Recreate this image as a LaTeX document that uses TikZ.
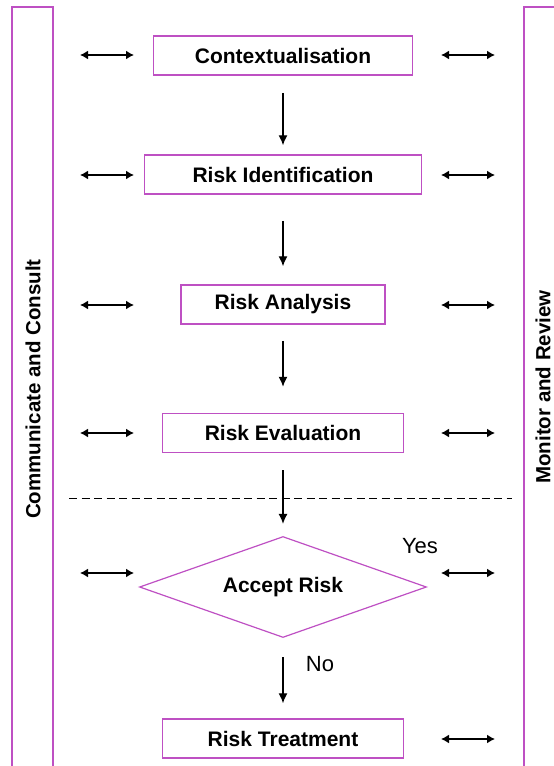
\documentclass[tikz,border=0pt]{standalone}
\usepackage{fontspec}
\setmainfont{Liberation Sans}
\usetikzlibrary{arrows.meta,shapes.geometric}
\definecolor{boxpurple}{RGB}{190,80,195}
\tikzset{
	procbox/.style={draw=boxpurple, line width=1.5pt, minimum height=39pt, inner sep=0pt, font=\bfseries\fontsize{21}{25}\selectfont},
	sidebar/.style={draw=boxpurple, line width=1.5pt},
	sidetext/.style={rotate=90, inner sep=0pt, font=\bfseries\fontsize{20.5}{24}\selectfont},
	dblarrow/.style={{Latex[length=8pt,width=9pt]}-{Latex[length=8pt,width=9pt]}, line width=1.5pt},
	flowarrow/.style={-{Latex[length=10pt,width=9pt]}, line width=1.3pt},
	answer/.style={font=\fontsize{22}{26}\selectfont},
}

\begin{document}
\begin{tikzpicture}[x=1pt,y=-1pt]
		%%%%% START %%%%%
		\useasboundingbox (0,0) rectangle (554,766);
		\clip (0,0) rectangle (554,766);
		
		% side bars
		\draw[sidebar] (12,7) rectangle (53,800);
		\draw[sidebar] (524,7) rectangle (620,800);
		\node[sidetext] (comm) at (33,389) {Communicate and Consult};
		\node[sidetext] (monit) at (543,387) {Monitor and Review};
		
		% process steps
		\node[procbox, minimum width=259pt] (context) at (283,55.5) {Contextualisation};
		\node[procbox, minimum width=277pt] (riskid) at (283,174.5) {Risk Identification};
		\node[procbox, minimum width=204pt] (analysis) at (283,304.5) {Risk Analysis};
		\node[procbox, minimum width=241pt] (evaluation) at (283,433) {Risk Evaluation};
		\node[diamond, draw=boxpurple, line width=1.2pt, aspect=2.84, minimum width=287pt, minimum height=101pt, inner sep=0pt, font=\bfseries\fontsize{21}{25}\selectfont] (accept) at (283,587) {Accept Risk};
		\node[procbox, minimum width=241pt] (treatment) at (283,738.5) {Risk Treatment};
		
		\draw[flowarrow, shorten <=17pt, shorten >=9pt] (context) -- (riskid);
		\draw[flowarrow, shorten <=26pt, shorten >=18pt] (riskid) -- (analysis);
		\draw[flowarrow, shorten <=16pt, shorten >=26pt] (analysis) -- (evaluation);
		\draw[flowarrow, shorten <=17pt, shorten >=12pt] (evaluation) -- (accept);
		\draw[flowarrow, shorten <=19pt, shorten >=15pt] (accept) -- (treatment);
		
		\node[answer] (yes) at (420,546) {Yes};
		\node[answer] (no) at (320,664) {No};
		
		% dashed divider
		\coordinate (dl) at (69,498);
		\coordinate (dr) at (512,498);
		\draw[line width=1pt, dash pattern=on 8pt off 4.5pt] (dl) -- (dr);
		
		% links to the side bars
		\foreach \y [count=\i] in {55,175,305,433,573}{
			\coordinate (la\i) at (80,\y);
			\coordinate (lb\i) at (134,\y);
			\draw[dblarrow] (la\i) -- (lb\i);
		}
		\foreach \y [count=\i] in {55,175,305,433,573,739}{
			\coordinate (ra\i) at (441,\y);
			\coordinate (rb\i) at (495,\y);
			\draw[dblarrow] (ra\i) -- (rb\i);
		}
		%%%%% END %%%%%
	\end{tikzpicture}
\end{document}
